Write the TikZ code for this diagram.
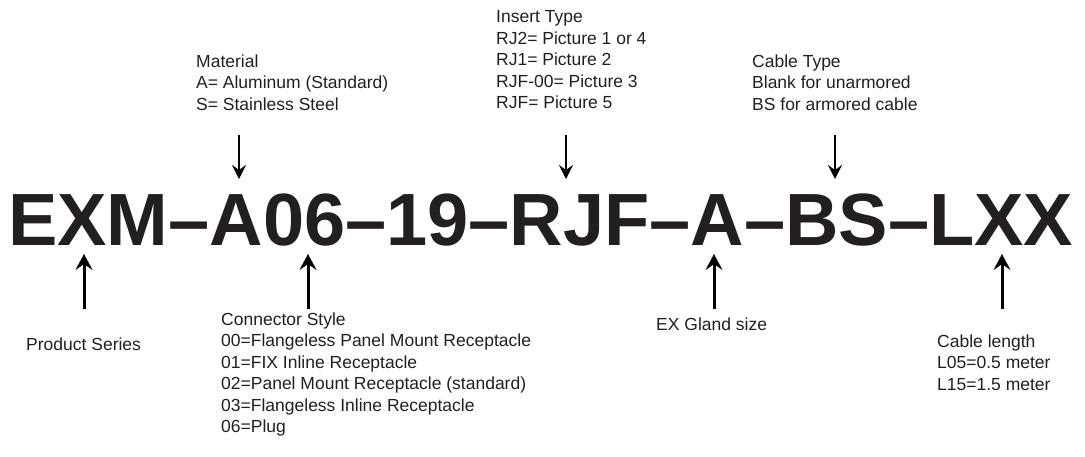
\documentclass[tikz,border=0pt]{standalone}
\usepackage{fontspec}
\setmainfont{Liberation Sans}
\usepackage{tikz}
\usetikzlibrary{arrows.meta}
\definecolor{inkgray}{HTML}{231F20}

\begin{document}
\begin{tikzpicture}[x=1pt, y=-1pt,
    code/.style={inner sep=0pt, anchor=base west, text=inkgray, font=\fontsize{74}{80}\selectfont\bfseries},
    lbl/.style={inner sep=0pt, anchor=north west, align=left, text=inkgray, font=\fontsize{17.5}{21.5}\selectfont},
    down/.style={-{Stealth[length=14pt, width=14pt, inset=5pt]}, line width=2pt, #1},
    down/.default={black},
    up/.style={-{Stealth[length=16pt, width=17pt, inset=6pt]}, line width=3pt, #1},
    up/.default={black}
]
\useasboundingbox (0,0) rectangle (1085,456);

% === PART NUMBER ===
\node[code] (partno) at (8,245) {EXM–A06–19–RJF–A–BS–LXX};

% === LABELS ABOVE ===
\node[lbl] (material) at (196,54.4) {Material\\A= Aluminum (Standard)\\S= Stainless Steel};
\node[lbl] (insert) at (496,10.4) {Insert Type\\RJ2= Picture 1 or 4\\RJ1= Picture 2\\RJF-00= Picture 3\\RJF= Picture 5};
\node[lbl] (cabletype) at (752,54.4) {Cable Type\\Blank for unarmored\\BS for armored cable};

% === LABELS BELOW ===
\node[lbl] (series) at (26,337.5) {Product Series};
\node[lbl] (style) at (221,312.4) {Connector Style\\00=Flangeless Panel Mount Receptacle\\01=FIX Inline Receptacle\\02=Panel Mount Receptacle (standard)\\03=Flangeless Inline Receptacle\\06=Plug};
\node[lbl] (gland) at (656,317.5) {EX Gland size};
\node[lbl] (length) at (937,334.5) {Cable length\\L05=0.5 meter\\L15=1.5 meter};

% === ARROW ENDS ===
\coordinate (matT) at (239,135);   \coordinate (matH) at (239,179);
\coordinate (insT) at (566,135);   \coordinate (insH) at (566,179);
\coordinate (cabT) at (835,135);   \coordinate (cabH) at (835,179);
\coordinate (serT) at (84,309);    \coordinate (serH) at (84,254);
\coordinate (styT) at (308,309);   \coordinate (styH) at (308,254);
\coordinate (glaT) at (714,309);   \coordinate (glaH) at (714,254);
\coordinate (lenT) at (1002,309);  \coordinate (lenH) at (1002,254);

% === ARROWS ===
\draw[down] (matT) -- (matH);
\draw[down] (insT) -- (insH);
\draw[down] (cabT) -- (cabH);
\draw[up] (serT) -- (serH);
\draw[up] (styT) -- (styH);
\draw[up] (glaT) -- (glaH);
\draw[up] (lenT) -- (lenH);

\end{tikzpicture}
\end{document}
